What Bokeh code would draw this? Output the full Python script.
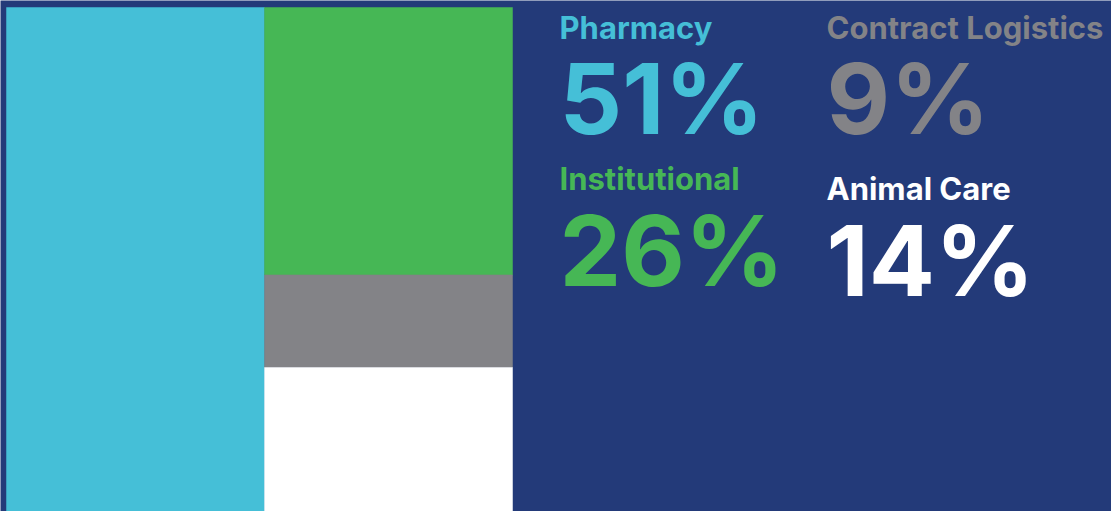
from bokeh.plotting import figure
from bokeh.models import ColumnDataSource, Range1d
from bokeh.core.properties import value
from bokeh.embed import file_html
from bokeh.resources import INLINE

# ---- data ----
segments = ["Pharmacy", "Institutional", "Contract Logistics", "Animal Care"]
shares = [51, 26, 9, 14]
colors = ["#45BFD7", "#46B755", "#838387", "#FFFFFF"]

W, H = 1111, 511
BG = "#233A79"

p = figure(width=W, height=H, output_backend="svg", toolbar_location=None,
           x_range=Range1d(0, W), y_range=Range1d(H, 0), min_border=0,
           background_fill_color=BG, border_fill_color=BG, outline_line_color=None)
p.axis.visible = False
p.grid.visible = False

# treemap layout (slice first item, dice rest)
X0, Y0, X1, Y1 = 6, 7, 512, 511
total = sum(shares)
left_w = (X1 - X0) * shares[0] / total
rects = dict(left=[X0], right=[X0 + left_w], top=[Y0], bottom=[Y1], color=[colors[0]])
rest = sum(shares[1:])
y = Y0
for s, c in zip(shares[1:], colors[1:]):
    h = (Y1 - Y0) * s / rest
    rects["left"].append(X0 + left_w)
    rects["right"].append(X1)
    rects["top"].append(y)
    rects["bottom"].append(y + h)
    rects["color"].append(c)
    y += h
p.quad(left="left", right="right", top="top", bottom="bottom", fill_color="color",
       line_color="color", line_width=0.5, source=ColumnDataSource(rects))

# labels (cap-top positions)
lab_x = [559, 559, 826, 826]
lab_y = [14, 165, 14, 175]
pct_y = [56, 208, 56, 218]
src = ColumnDataSource(dict(
    x=lab_x, ly=lab_y, py=pct_y,
    name=segments,
    pct=[f"{v}%" for v in shares],
    color=[colors[0], colors[1], colors[2], colors[3]],
))
p.text(x="x", y="ly", text="name", text_color="color", source=src,
       text_font=value("Inter"), text_font_style="bold", text_font_size="31px",
       text_baseline="top", text_align="left", y_offset=-6)
p.text(x="x", y="py", text="pct", text_color="color", source=src,
       text_font=value("Inter"), text_font_style="bold", text_font_size="98px",
       text_baseline="top", text_align="left", y_offset=-18)

open("out.html", "w").write(file_html(p, INLINE))
